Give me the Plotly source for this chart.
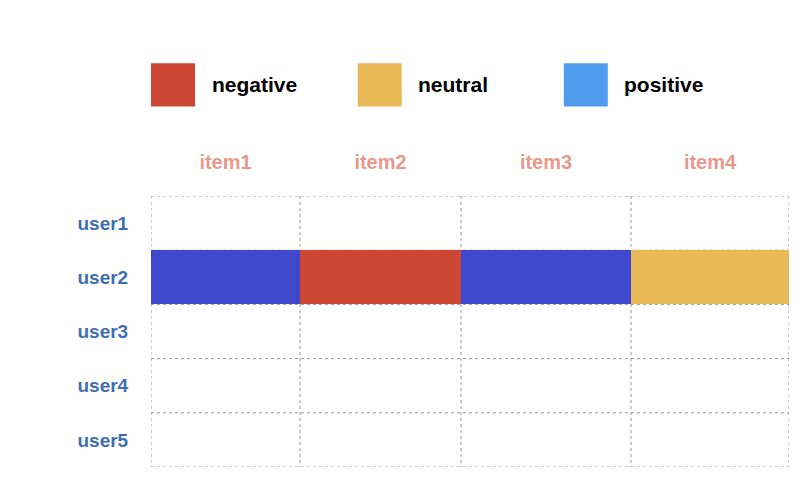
import plotly.graph_objects as go

items = ['item1', 'item2', 'item3', 'item4']
users = ['user1', 'user2', 'user3', 'user4', 'user5']
col_edges = [0, 149, 310, 480, 638]
# 0 = negative, 1 = neutral, 2 = positive, None = empty
ratings = [
    [None, None, None, None],
    [2, 0, 2, 1],
    [None, None, None, None],
    [None, None, None, None],
    [None, None, None, None],
]
legend_names = ['negative', 'neutral', 'positive']
legend_colors = ['#CC4631', '#E8B957', '#4F9CEF']

row_edges = list(range(len(users) + 1))
centers = [(a + b) / 2 for a, b in zip(col_edges[:-1], col_edges[1:])]

fig = go.Figure()
fig.add_trace(go.Heatmap(
    x=col_edges, y=row_edges, z=ratings,
    zmin=0, zmax=2, showscale=False, hoverongaps=False,
    colorscale=[[0, '#CC4631'], [0.33, '#CC4631'], [0.33, '#E8B957'], [0.66, '#E8B957'],
                [0.66, '#3F48CC'], [1, '#3F48CC']],
))

grid = dict(color='#999', width=1, dash='dot')
for x in col_edges:
    fig.add_shape(type='line', x0=x, x1=x, y0=0, y1=len(users), line=grid, layer='below')
for y in row_edges:
    fig.add_shape(type='line', x0=0, x1=col_edges[-1], y0=y, y1=y, line=grid, layer='below')

# legend drawn in paper coordinates
lx = [0.0, 0.324, 0.647]
for i, (name, c) in enumerate(zip(legend_names, legend_colors)):
    fig.add_shape(type='rect', xref='paper', yref='paper',
                  x0=lx[i], x1=lx[i] + 0.069, y0=1.33, y1=1.49,
                  fillcolor=c, line_width=0)
    fig.add_annotation(xref='paper', yref='paper', x=lx[i] + 0.092, y=1.41,
                       text='<b>' + name + '</b>', showarrow=False,
                       xanchor='left', yanchor='middle',
                       font=dict(size=21, color='black'))

fig.update_xaxes(range=[0, col_edges[-1]], tickvals=centers, ticktext=['<b>%s</b>' % s for s in items],
                 side='top', showgrid=False, zeroline=False, ticks='outside', ticklen=18,
                 tickcolor='rgba(0,0,0,0)', automargin=False,
                 tickfont=dict(size=20, color='#E8998D'))
fig.update_yaxes(range=[len(users), 0], tickvals=[r + 0.5 for r in range(len(users))],
                 ticktext=['<b>%s</b>' % s for s in users], showgrid=False, zeroline=False,
                 ticks='outside', ticklen=18, tickcolor='rgba(0,0,0,0)', automargin=False,
                 tickfont=dict(size=19, color='#3D6FB0'))
fig.update_layout(width=805, height=500, plot_bgcolor='white', paper_bgcolor='white',
                  font=dict(family='Helvetica, Arial, sans-serif'),
                  margin=dict(l=143, r=24, t=188, b=41))
fig.write_html('out.html')
